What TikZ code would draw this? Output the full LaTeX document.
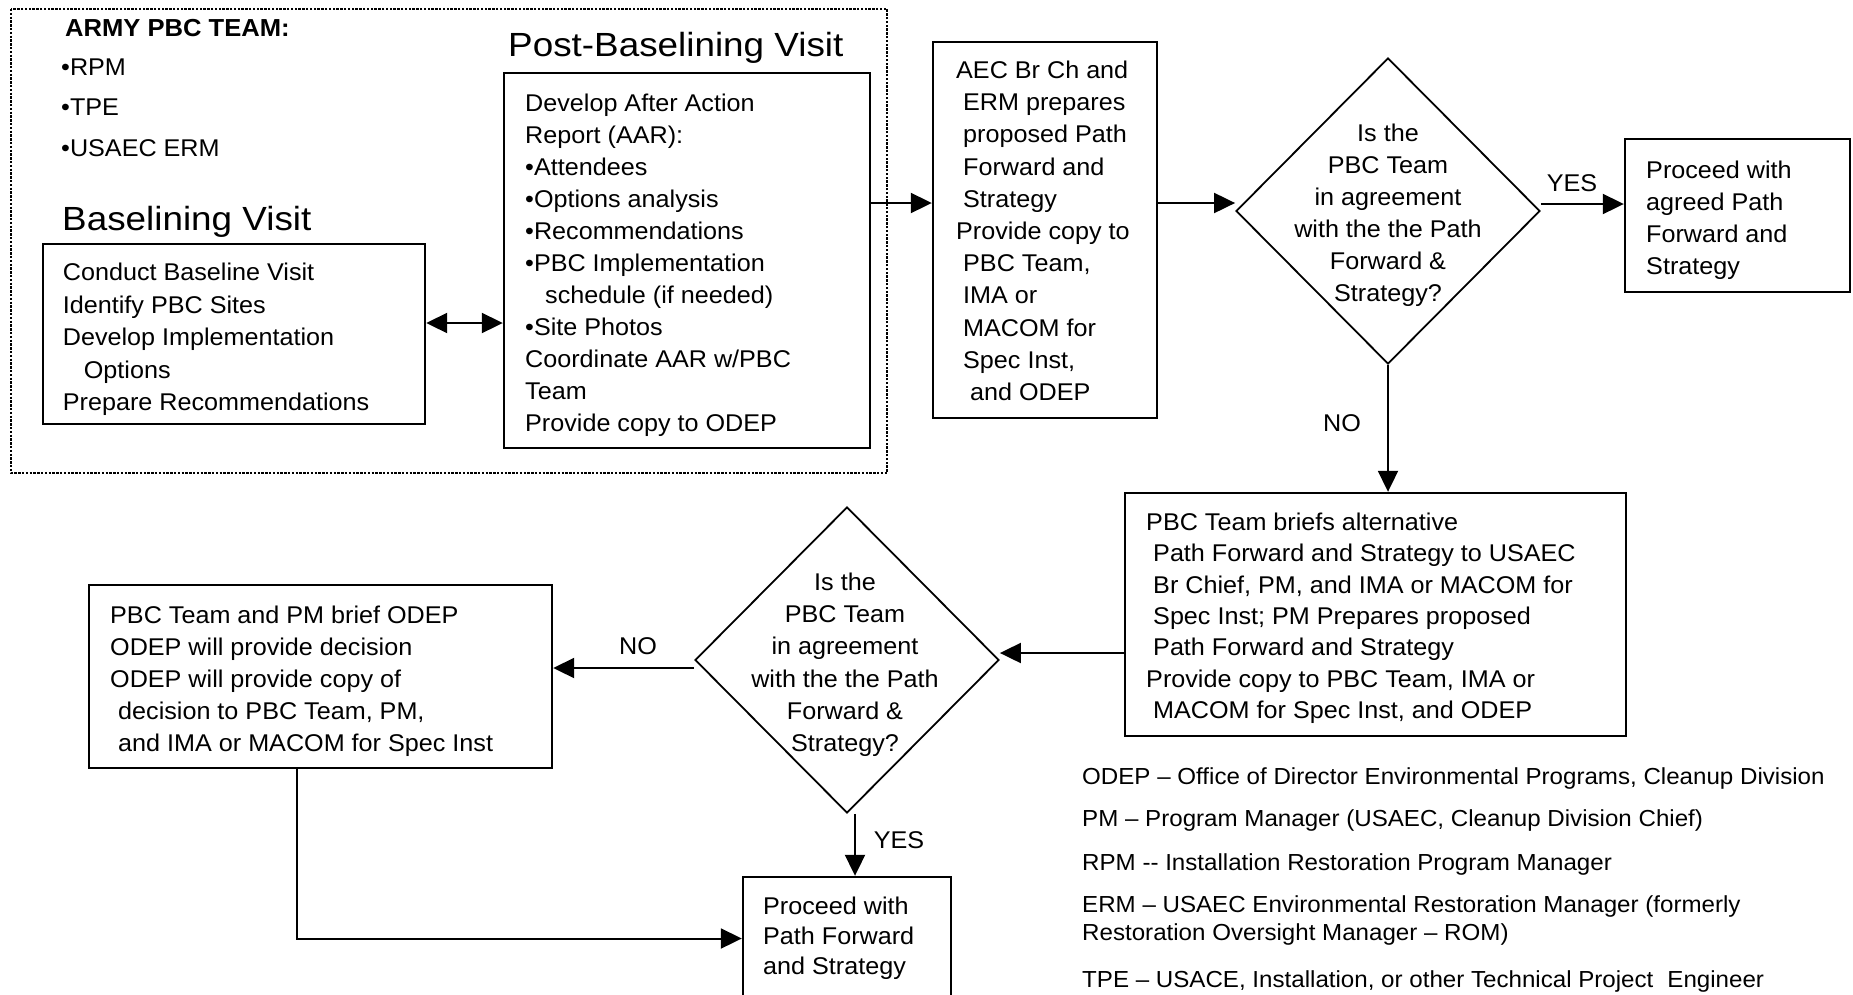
\documentclass[tikz,border=0pt]{standalone}
\usepackage{fontspec}
\setmainfont[FakeStretch=1.04]{Liberation Sans}
\newfontfamily\titlefont[FakeStretch=1.1]{Liberation Sans}
\usetikzlibrary{shapes.geometric,arrows.meta,calc}
\tikzset{
  box/.style={draw, line width=2.4pt, rectangle, inner sep=0pt},
  dia/.style={draw, line width=1.8pt, diamond, inner sep=0pt, minimum width=304pt, minimum height=306pt},
  txt/.style={inner sep=0pt, align=left, anchor=west},
  ctxt/.style={inner sep=0pt, align=center},
  arr/.style={line width=2pt, -{Triangle[length=21pt,width=20pt]}},
  darr/.style={line width=2pt, {Triangle[length=21pt,width=20pt]}-{Triangle[length=21pt,width=20pt]}},
  grp/.style={draw, line width=2.4pt, dash pattern=on 2.4pt off 1.4pt},
  lbl/.style={inner sep=0pt},
  leg/.style={inner sep=0pt, anchor=base west, font=\fontsize{23.2}{28}\selectfont},
  head/.style={inner sep=0pt, anchor=base west},
  ttl/.style={inner sep=0pt, anchor=base west, font=\titlefont\fontsize{33.5}{40}\selectfont},
}
\begin{document}
\begin{tikzpicture}[x=1pt,y=-1pt,font=\fontsize{24.2}{32}\selectfont]
\useasboundingbox (0,0) rectangle (1853,994);
\fill[white] (0,0) rectangle (1853,994);

% dotted group frame
\draw[grp] (11,9) rectangle (887,473);

% team list and titles
\node[head, font=\bfseries\fontsize{24.6}{30}\selectfont] (army) at (65,36) {ARMY PBC TEAM:};
\node[head] (rpm) at (61,75) {•RPM};
\node[head] (tpe) at (61,115) {•TPE};
\node[head] (usaec) at (61,156.5) {•USAEC ERM};
\node[ttl] (posttitle) at (508,56.7) {Post-Baselining Visit};
\node[ttl] (basetitle) at (62,230) {Baselining Visit};

% boxes
\node[box, minimum width=382pt, minimum height=180pt] (bl) at (234,334) {};
\node[box, minimum width=366pt, minimum height=375pt] (aar) at (687,260.5) {};
\node[box, minimum width=224pt, minimum height=376pt] (aec) at (1045,230) {};
\node[box, minimum width=225pt, minimum height=153pt] (p1) at (1737.5,215.5) {};
\node[box, minimum width=501pt, minimum height=243pt] (br) at (1375.5,614.5) {};
\node[box, minimum width=463pt, minimum height=183pt] (od) at (320.5,676.5) {};
\node[box, minimum width=208pt, minimum height=123pt] (fin) at (847,938.5) {};
\node[dia] (d1) at (1388,211) {};
\node[dia] (d2) at (847,660) {};

% box texts
\node[txt, font=\fontsize{24.2}{32.5}\selectfont] (blt) at (62.7,339.7)
  {Conduct Baseline Visit\\Identify PBC Sites\\Develop Implementation\\\hspace*{21pt}Options\\Prepare Recommendations};
\node[txt, font=\fontsize{24.2}{32}\selectfont] (aart) at (525,265.2)
  {Develop After Action\\Report (AAR):\\•Attendees\\•Options analysis\\•Recommendations\\•PBC Implementation\\\hspace*{20pt}schedule (if needed)\\•Site Photos\\Coordinate AAR w/PBC\\Team\\Provide copy to ODEP};
\node[txt, font=\fontsize{24.2}{32.2}\selectfont] (aect) at (956,230.8)
  {AEC Br Ch and\\\hspace*{7pt}ERM prepares\\\hspace*{7pt}proposed Path\\\hspace*{7pt}Forward and\\\hspace*{7pt}Strategy\\Provide copy to\\\hspace*{7pt}PBC Team,\\\hspace*{7pt}IMA or\\\hspace*{7pt}MACOM for\\\hspace*{7pt}Spec Inst,\\\hspace*{14pt}and ODEP};
\node[ctxt, font=\fontsize{24.2}{32}\selectfont] (d1t) at (1388,215.3)
  {Is the\\PBC Team\\in agreement\\with the the Path\\Forward \&\\Strategy?};
\node[txt, font=\fontsize{24.2}{32}\selectfont] (p1t) at (1646,220.3)
  {Proceed with\\agreed Path\\Forward and\\Strategy};
\node[txt, font=\fontsize{24.2}{31.3}\selectfont] (brt) at (1146,618.3)
  {PBC Team briefs alternative\\\hspace*{7pt}Path Forward and Strategy to USAEC\\\hspace*{7pt}Br Chief, PM, and IMA or MACOM for\\\hspace*{7pt}Spec Inst; PM Prepares proposed\\\hspace*{7pt}Path Forward and Strategy\\Provide copy to PBC Team, IMA or\\\hspace*{7pt}MACOM for Spec Inst, and ODEP};
\node[ctxt, font=\fontsize{24.2}{32.2}\selectfont] (d2t) at (845,664.8)
  {Is the\\PBC Team\\in agreement\\with the the Path\\Forward \&\\Strategy?};
\node[txt, font=\fontsize{24.2}{32}\selectfont] (odt) at (110,681.3)
  {PBC Team and PM brief ODEP\\ODEP will provide decision\\ODEP will provide copy of\\\hspace*{8pt}decision to PBC Team, PM,\\\hspace*{8pt}and IMA or MACOM for Spec Inst};
\node[txt, font=\fontsize{24.2}{30}\selectfont] (fint) at (763,938.7)
  {Proceed with\\Path Forward\\and Strategy};

% connectors
\draw[darr] ([yshift=11pt]bl.east) -- ([yshift=11pt]bl.east -| aar.west);
\draw[arr] ([yshift=57.5pt]aar.east) -- ([yshift=57.5pt]aar.east -| aec.west);
\draw[arr] ([yshift=27pt]aec.east) -- ([yshift=27pt]aec.east -| d1.west);
\draw[arr] ([yshift=7pt]d1.east) -- ([yshift=7pt]d1.east -| p1.west);
\draw[arr] (d1.south) -- (d1.south |- br.north);
\draw[arr] ([yshift=-38.5pt]br.west) -- ([yshift=-38.5pt]br.west -| d2.east);
\draw[arr] ([yshift=-8pt]d2.west) -- ([yshift=-8pt]d2.west -| od.east);
\draw[arr] ([xshift=8pt]d2.south) -- ([xshift=8pt]d2.south |- fin.north);
\draw[arr] ([xshift=-23.5pt]od.south) |- (fin.west);

% connector labels
\node[lbl] (yes1) at (1572,183) {YES};
\node[lbl] (no1) at (1342,423) {NO};
\node[lbl] (no2) at (638,646) {NO};
\node[lbl] (yes2) at (899,840) {YES};

% legend
\node[leg] (leg1) at (1082,784) {ODEP – Office of Director Environmental Programs, Cleanup Division};
\node[leg] (leg2) at (1082,826) {PM – Program Manager (USAEC, Cleanup Division Chief)};
\node[leg] (leg3) at (1082,870) {RPM -{}- Installation Restoration Program Manager};
\node[leg] (leg4) at (1082,912) {ERM – USAEC Environmental Restoration Manager (formerly};
\node[leg] (leg5) at (1082,940) {Restoration Oversight Manager – ROM)};
\node[leg] (leg6) at (1082,987) {TPE – USACE, Installation, or other Technical Project\hspace{14pt}Engineer};
\end{tikzpicture}
\end{document}
